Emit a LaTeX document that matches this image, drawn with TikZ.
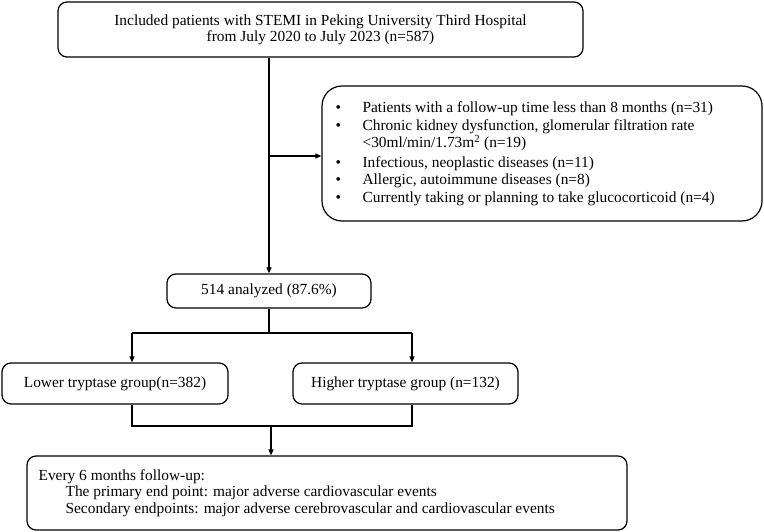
\documentclass[tikz,border=0pt]{standalone}
\usepackage{fontspec}
\setmainfont{Liberation Serif}
\usetikzlibrary{arrows.meta,calc}
\begin{document}
\begin{tikzpicture}[x=1pt,y=-1pt,
  line width=1.2pt,
  box/.style={draw,rounded corners=9pt,inner sep=0pt,font=\fontsize{15.4}{16}\selectfont},
  arr/.style={-{Triangle[length=6pt,width=5pt]}}]
\useasboundingbox (0,0) rectangle (764,532);
\node[box,minimum width=525pt,minimum height=55pt,align=center] (top) at (320.5,29.5)
  {Included patients with STEMI in Peking University Third Hospital\\from July 2020 to July 2023 (n=587)};
\node[box,rounded corners=20pt,minimum width=440pt,minimum height=135pt] (excl) at (542,153.5) {};
\node[anchor=west,inner sep=0pt,align=left,font=\fontsize{15.4}{17.5}\selectfont] (excltext) at (335,153.5)
  {\makebox[27pt][l]{\textbullet}Patients with a follow-up time less than 8 months (n=31)\\
   \makebox[27pt][l]{\textbullet}Chronic kidney dysfunction, glomerular filtration rate\\
   \hspace*{27pt}{<}30ml/min/1.73m\textsuperscript{2} (n=19)\\[2pt]
   \makebox[27pt][l]{\textbullet}Infectious, neoplastic diseases (n=11)\\
   \makebox[27pt][l]{\textbullet}Allergic, autoimmune diseases (n=8)\\
   \makebox[27pt][l]{\textbullet}Currently taking or planning to take glucocorticoid (n=4)};
\node[box,minimum width=204pt,minimum height=34pt] (an) at (269,291) {514 analyzed (87.6\%)};
\node[box,minimum width=226pt,minimum height=41pt] (low) at (115,383.5) {Lower tryptase group(n=382)};
\node[box,minimum width=225pt,minimum height=41pt] (high) at (405.5,383.5) {Higher tryptase group (n=132)};
\node[box,minimum width=600pt,minimum height=74pt] (fu) at (327,493) {};
\node[anchor=west,inner sep=0pt,align=left,font=\fontsize{15.4}{16.5}\selectfont] (futext) at (38,493)
  {Every 6 months follow-up:\\
   \hspace*{27pt}The primary end point: major adverse cardiovascular events\\
   \hspace*{27pt}Secondary endpoints: major adverse cerebrovascular and cardiovascular events};
% connectors
\coordinate (br) at (269,156);
\draw[arr] (top.south -| an.north) -- (an.north);
\draw[arr] (br) -- (br -| excl.west);
\coordinate (sp) at (269,333);
\coordinate (sl) at (132,333);
\coordinate (sr) at (412,333);
\draw (an.south) -- (sp);
\draw (sl) -- (sr);
\draw[arr] (sl) -- (sl |- low.north);
\draw[arr] (sr) -- (sr |- high.north);
\coordinate (jl) at (132,426);
\coordinate (jr) at (412,426);
\coordinate (jm) at (271,426);
\draw (jl |- low.south) -- (jl) -- (jr) -- (jr |- high.south);
\draw[arr] (jm) -- (jm |- fu.north);
\end{tikzpicture}
\end{document}
